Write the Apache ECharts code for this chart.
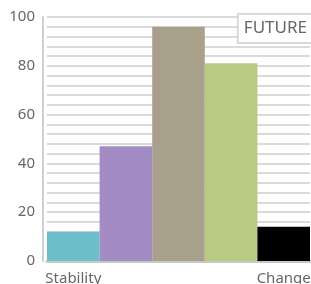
<!DOCTYPE html>
<html>
<head>
<meta charset="utf-8">
<script src="https://cdn.jsdelivr.net/npm/echarts@6/dist/echarts.min.js"></script>
<style>
  html, body { margin: 0; padding: 0; background: #fff; }
  #chart { width: 311px; height: 284px; }
</style>
</head>
<body>
<div id="chart"></div>
<script>
const categories = ["Stability", "", "", "", "Change"];
const values = [12, 47, 96, 81, 14];
const colors = ["#6cbec8", "#a38cc4", "#a9a08b", "#b8cb80", "#000000"];
const yTicks = [0, 20, 40, 60, 80, 100];

let myChart = echarts.init(document.getElementById("chart"));
myChart.setOption({
  animation: false,
  textStyle: { fontFamily: "Noto Sans" },
  title: {
    text: "FUTURE",
    right: -2,
    top: 14,
    padding: [6, 6, 6, 6],
    backgroundColor: "#fff",
    borderColor: "#d9d9d9",
    borderWidth: 2,
    textStyle: { color: "#666", fontSize: 17, fontWeight: "normal", fontFamily: "Noto Sans" },
  },
  grid: { left: 47, right: 1, top: 17, bottom: 23, outerBoundsMode: "none", containLabel: false },
  xAxis: {
    type: "category",
    data: categories,
    axisLine: { lineStyle: { color: "#c8c8c8", width: 3 } },
    axisTick: { show: false },
    axisLabel: { color: "#666", fontSize: 15, interval: 0, margin: 10 },
  },
  yAxis: {
    type: "value",
    min: 0,
    max: 100,
    interval: 4,
    offset: 4,
    axisLine: { show: true, lineStyle: { color: "#d0d0d0", width: 2 } },
    axisTick: { show: false },
    splitLine: { lineStyle: { color: "#dadada", width: 2 } },
    axisLabel: {
      color: "#666",
      fontSize: 15,
      margin: 8,
      formatter: (v) => (yTicks.includes(v) ? String(v) : ""),
    },
  },
  series: [
    {
      type: "bar",
      data: values.map((v, i) => ({ value: v, itemStyle: { color: colors[i] } })),
      barCategoryGap: "0%",
    },
  ],
});
</script>
</body>
</html>
